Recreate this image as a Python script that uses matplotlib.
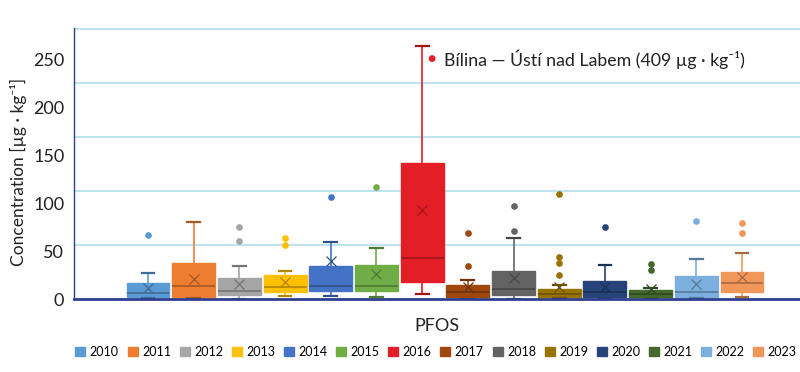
import matplotlib
matplotlib.use('Agg')
import matplotlib.pyplot as plt
from matplotlib.patches import Patch
from matplotlib.colors import to_rgb

plt.rcParams['font.family'] = ['Lato', 'DejaVu Sans']

years = ['2010', '2011', '2012', '2013', '2014', '2015', '2016',
         '2017', '2018', '2019', '2020', '2021', '2022', '2023']
colors = ['#5B9BD5', '#ED7D31', '#A5A5A5', '#FFC000', '#4472C4', '#70AD47', '#E41E26',
          '#9E480E', '#636363', '#997300', '#264478', '#43682B', '#7CAFDD', '#F1975A']

whis_hi = [27.4, 80.2, 34.4, 28.9, 59.4, 53.4, 263.9, 19.5, 63.2, 14.3, 35.4, 11.5, 42.0, 48.2]
q3 = [17.0, 37.2, 22.2, 25.0, 34.4, 35.1, 141.3, 14.3, 29.2, 10.4, 18.8, 9.4, 24.3, 28.4]
med = [6.6, 13.9, 8.0, 12.8, 13.5, 13.5, 42.4, 7.6, 10.1, 5.2, 7.3, 5.2, 7.6, 17.0]
q1 = [2.4, 2.4, 4.2, 7.0, 8.3, 8.3, 17.4, 1.8, 3.8, 2.1, 2.4, 1.8, 2.4, 7.0]
whis_lo = [1.0, 0.7, 0.3, 3.1, 3.1, 1.8, 5.2, 0.3, 0.0, 1.0, 0.0, 0.0, 1.4, 1.8]
means = [11.0, 20.8, 15.6, 18.0, 39.6, 26.0, 92.7, 12.8, 21.6, 12.2, 12.8, 10.4, 15.3, 22.6]
outliers = [[66.7], [], [74.7, 60.4], [63.9, 56.6], [106.0], [116.3], [409.0],
            [69.0, 34.4], [97.2, 71.1], [109.4, 43.4, 37.8, 24.7], [75.3],
            [36.0, 30.2], [81.6], [79.5, 68.4]]

y_ticks = [0, 50, 100, 150, 200, 250]
category = 'PFOS'
note = 'Bílina — Ústí nad Labem (409 µg · kg⁻¹)'


def darker(c, f=0.7):
    r, g, b = to_rgb(c)
    return (r * f, g * f, b * f)


fig = plt.figure(figsize=(8, 3.72), dpi=100)
ax = fig.add_axes([74 / 800, 1 - 299 / 372, 726 / 800, 271 / 372])

for i, yr in enumerate(years):
    st = dict(med=med[i], q1=q1[i], q3=q3[i], whislo=whis_lo[i], whishi=whis_hi[i],
              mean=means[i], fliers=outliers[i], label=yr)
    c = colors[i]
    d = darker(c)
    ax.bxp([st], positions=[i + 1], widths=0.94, capwidths=0.28, patch_artist=True,
           showmeans=True, meanline=False,
           boxprops=dict(facecolor=c, edgecolor=c, linewidth=1),
           medianprops=dict(color=d, linewidth=1.2),
           whiskerprops=dict(color=c, linewidth=1.2),
           capprops=dict(color=d, linewidth=1.6),
           meanprops=dict(marker='x', markeredgecolor=d, markersize=6.5, markeredgewidth=0.9),
           flierprops=dict(marker='o', markerfacecolor=c, markeredgecolor=c, markersize=3.8))

ax.set_xlim(-0.62, 15.27)
ax.set_ylim(0, 282.3)
ax.set_yticks(y_ticks)
ax.set_yticks([56.25 * k for k in range(1, 6)], minor=True)
ax.grid(True, which='minor', axis='y', color='#bfe4f0', linewidth=1.5)
ax.set_axisbelow(True)
ax.tick_params(axis='y', which='both', length=0, labelsize=13, pad=7, colors='#222222')
ax.set_xticks([])
for s in ['top', 'right']:
    ax.spines[s].set_visible(False)
ax.spines['left'].set_color('#2e3f8f')
ax.spines['left'].set_linewidth(1)
ax.spines['bottom'].set_color('#2e3f8f')
ax.spines['bottom'].set_linewidth(2)

ax.set_ylabel('Concentration [µg · kg⁻¹]', fontsize=12.5, color='#222222')
ax.yaxis.set_label_coords(-0.065, 0.47)

fig.text(437 / 800, 1 - 326 / 372, category, ha='center', va='center', fontsize=13, color='#222222')

ax.text(7.21, 250, '●', color='#E41E26', ha='center', va='center', fontsize=10)
ax.text(7.48, 250, note, ha='left', va='center', fontsize=12.8, color='#222222')

handles = [Patch(facecolor=c, edgecolor=c, label=y) for c, y in zip(colors, years)]
fig.legend(handles=handles, loc='center', bbox_to_anchor=(436 / 800, 1 - 352 / 372),
           ncol=14, frameon=False, handlelength=0.8, handleheight=0.8,
           handletextpad=0.35, columnspacing=0.7,
           prop={'family': ['Lato'], 'size': 9})

fig.savefig('out.png', dpi=100)
